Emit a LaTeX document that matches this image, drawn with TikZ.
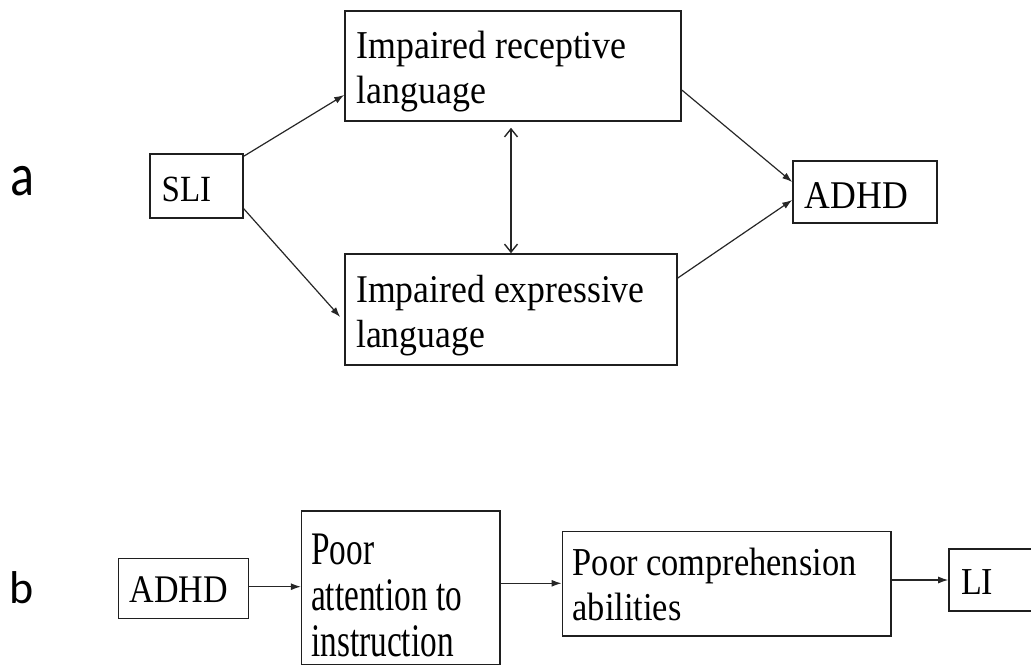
\documentclass[tikz,border=0pt]{standalone}
\usepackage{graphicx}
\usepackage{fontspec}
\setmainfont{Liberation Serif}
\newfontfamily\labfont{Carlito}
\usetikzlibrary{arrows.meta}
% #1 vertical stretch, #2 font size, #3 unscaled line skip, #4 lines
\newcommand{\lline}[1]{\hbox{#1}}
\newcommand{\btxt}[4]{\scalebox{1}[#1]{\fontsize{#2}{#3}\selectfont\vtop{\lineskiplimit=-100pt\baselineskip=#3pt\relax #4}}}
\tikzset{
  bx/.style={draw=black!88, line width=1.6pt, inner sep=0pt},
  txt/.style={inner sep=0pt, anchor=base west},
  arr/.style={line width=1.2pt, draw=black!85, -{Latex[length=10pt,width=7pt]}},
  dbl/.style={line width=1.2pt, draw=black!85, {Straight Barb[length=8pt,width=13pt,line width=1.4pt]}-{Straight Barb[length=8pt,width=13pt,line width=1.4pt]}},
  lab/.style={inner sep=0pt, anchor=base west}
}
\begin{document}
\begin{tikzpicture}[x=1pt,y=-1pt]
\useasboundingbox (0,0) rectangle (1031,667);
% ---------- part a ----------
\node[lab] (la) at (10.5,195) {\scalebox{1}[1.2]{\labfont\fontsize{50}{60}\selectfont a}};
\node[bx, minimum width=93pt, minimum height=64pt] (sli) at (196.5,186) {};
\node[bx, minimum width=336pt, minimum height=110pt] (rec) at (513,66) {};
\node[bx, minimum width=332pt, minimum height=111pt] (exp) at (511,309.5) {};
\node[bx, minimum width=144pt, minimum height=62pt] (adhda) at (865,192) {};
\node[txt] (slit) at (161.5,201) {\btxt{1.12}{33}{40}{\lline{SLI}}};
\node[txt] (rect) at (356.5,58.5) {\btxt{1.1}{35.9}{41}{\lline{Impaired receptive}\lline{language}}};
\node[txt] (expt) at (356,302) {\btxt{1.1}{35.7}{41}{\lline{Impaired expressive}\lline{language}}};
\node[txt] (adhdat) at (804.5,208.5) {\btxt{1.1}{35.7}{40}{\lline{ADHD}}};
\draw[arr] ([yshift=-3pt]sli.north east) -- ([yshift=-29pt]rec.west);
\draw[arr, shorten >=6pt] ([yshift=10pt]sli.south east) -- ([yshift=-12pt]exp.west);
\draw[arr] ([yshift=-24pt]rec.east) -- ([yshift=10pt]adhda.west);
\draw[arr] ([yshift=31.5pt]exp.east) -- ([yshift=-8pt]adhda.west);
\draw[dbl] ([xshift=-2pt,yshift=-6pt]rec.south) -- (exp.north);
% ---------- part b ----------
\node[lab] (lb) at (9.5,603) {\labfont\fontsize{46}{55}\selectfont b};
\node[bx, minimum width=130pt, minimum height=60pt] (adhdb) at (183.3,588.3) {};
\node[bx, minimum width=198.3pt, minimum height=153.3pt] (att) at (400.8,587.7) {};
\node[bx, minimum width=328.7pt, minimum height=104.3pt] (comp) at (726.7,583.8) {};
\node[bx, minimum width=100pt, minimum height=62pt] (li) at (999,580) {};
\node[txt] (adhdbt) at (129.5,602) {\btxt{1.15}{34}{40}{\lline{ADHD}}};
\node[txt] (attt) at (311,564) {\btxt{1.4}{33.3}{32.9}{\lline{Poor}\lline{attention to}\lline{instruction}}};
\node[txt] (compt) at (572.5,575) {\btxt{1.15}{34.4}{39.7}{\lline{Poor comprehension}\lline{abilities}}};
\node[txt] (lit) at (961,594) {\btxt{1.12}{34}{40}{\lline{LI}}};
\draw[arr] ([yshift=1.6pt]adhdb.east) -- ([yshift=1.6pt]adhdb.east -| att.west);
\draw[arr] ([yshift=4.4pt]att.east) -- ([yshift=4.4pt]att.east -| comp.west);
\draw[arr] ([yshift=3.8pt]comp.east) -- ([yshift=3.8pt]comp.east -| li.west);
\end{tikzpicture}
\end{document}
